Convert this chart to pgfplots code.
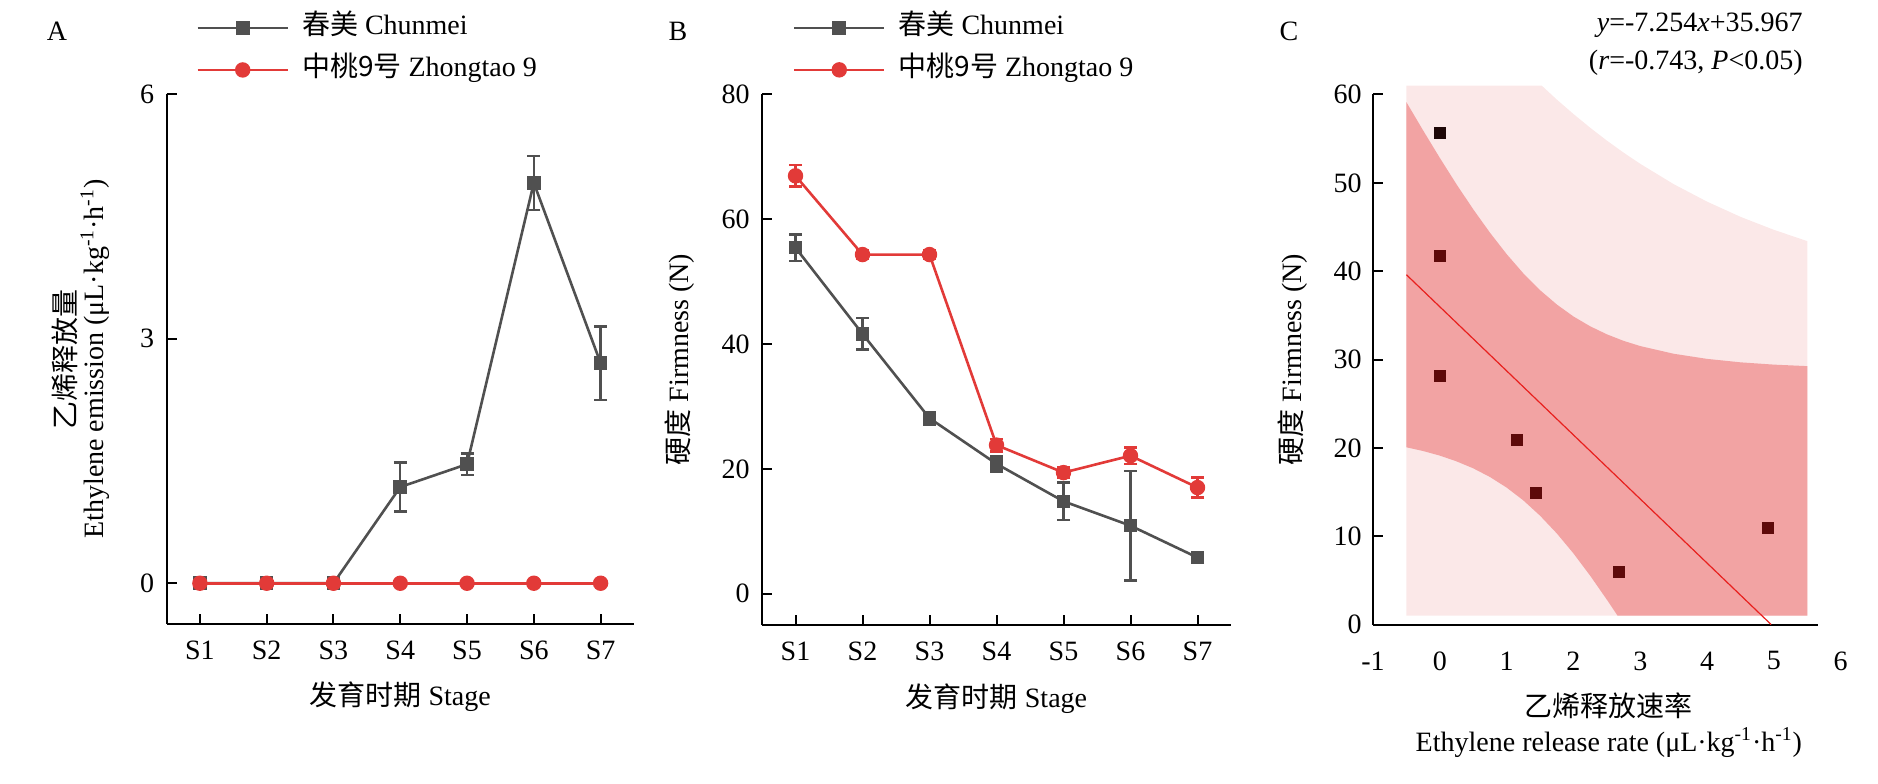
\documentclass[border=0pt]{standalone}
\usepackage{fontspec}
\setmainfont{Liberation Serif}
\newfontfamily\cjk{Noto Sans CJK SC}
\usepackage{pgfplots}
\pgfplotsset{compat=1.18}

\definecolor{cgray}{HTML}{505050}
\definecolor{cred}{HTML}{E23A38}
\definecolor{bandlight}{HTML}{FBE8E8}
\definecolor{banddark}{HTML}{F2A3A3}
\definecolor{ptdark}{HTML}{5E0A0A}
\definecolor{ptblack}{HTML}{1E0606}
\definecolor{fitred}{HTML}{E8201E}

\pgfplotsset{
  mybase/.style={
    scale only axis,
    axis lines=left,
    axis line style={-, line width=1pt},
    tick align=inside,
    major tick length=5pt,
    every tick/.style={black, line width=1pt},
    /pgf/number format/assume math mode=true,
    clip=false,
    label style={font=\fontsize{14}{16}\selectfont},
    tick label style={font=\fontsize{14}{16}\selectfont},
  },
  mylegend/.style={
    legend style={draw=none, fill=none, at={(axis description cs:#1,1.0850)}, anchor=west,
      inner sep=0pt, outer sep=0pt, row sep=8pt, column sep=6.5pt,
      nodes={inner sep=0pt, text height=10pt, text depth=3pt, anchor=west},
      font=\fontsize{14}{16}\selectfont},
    legend cell align=left,
    legend image code/.code={\draw[mark repeat=2,mark phase=2] plot coordinates {(0pt,0pt) (22.5pt,0pt) (45pt,0pt)};},
  },
  grayser/.style={cgray, line width=1.3pt, mark=square*, mark size=2.75pt, mark options={solid, fill=cgray}},
  redser/.style={cred, line width=1.3pt, mark=*, mark size=3.2pt, mark options={solid, fill=cred}},
  ebar/.style={error bars/.cd, y dir=both, y explicit,
    error bar style={line width=1.2pt},
    error mark options={rotate=90, mark size=3.25pt, line width=1.2pt}},
}

\begin{document}
\fontsize{14}{16}\selectfont
\begin{tikzpicture}
\path[use as bounding box] (0,0) rectangle (939pt,391.5pt);

% ---------------- Panel A ----------------
\begin{axis}[mybase, mylegend=0.064,
  at={(83.25pt,79.5pt)}, anchor=south west, width=233.75pt, height=265pt,
  xmin=0.5, xmax=7.5, ymin=-0.5, ymax=6,
  xtick={1,2,3,4,5,6,7}, xticklabels={S1,S2,S3,S4,S5,S6,S7},
  ytick={0,3,6},
  xticklabel style={yshift=-3.7pt},
  yticklabel style={xshift=-1.3pt},
  xlabel={{\cjk 发育时期} Stage},
  xlabel style={at={(axis description cs:0.5,-0.138)}, anchor=center},
  ylabel={{\cjk 乙烯释放量}\\[-2pt]Ethylene emission (μL·kg\textsuperscript{-1}·h\textsuperscript{-1})},
  ylabel style={at={(axis description cs:-0.183,0.5)}, anchor=center, align=center},
]
\addplot[grayser, ebar] coordinates {
  (1,0) +- (0,0)
  (2,0) +- (0,0)
  (3,0) +- (0,0)
  (4,1.18) +- (0,0.30)
  (5,1.46) +- (0,0.13)
  (6,4.91) +- (0,0.33)
  (7,2.70) +- (0,0.45)
};
\addlegendentry{{\cjk 春美} Chunmei}
\addplot[redser] coordinates {
  (1,0) (2,0) (3,0) (4,0) (5,0) (6,0) (7,0)
};
\addlegendentry{{\cjk 中桃9号} Zhongtao 9}
\end{axis}

% ---------------- Panel B ----------------
\begin{axis}[mybase, mylegend=0.066,
  at={(381pt,79pt)}, anchor=south west, width=234.5pt, height=265.5pt,
  xmin=0.5, xmax=7.5, ymin=-5, ymax=80,
  xtick={1,2,3,4,5,6,7}, xticklabels={S1,S2,S3,S4,S5,S6,S7},
  ytick={0,20,40,60,80},
  xticklabel style={yshift=-3.7pt},
  yticklabel style={xshift=-1.3pt},
  xlabel={{\cjk 发育时期} Stage},
  xlabel style={at={(axis description cs:0.5,-0.138)}, anchor=center},
  ylabel={{\cjk 硬度} Firmness (N)},
  ylabel style={at={(axis description cs:-0.175,0.5)}, anchor=center},
]
\addplot[grayser, ebar] coordinates {
  (1,55.4) +- (0,2.1)
  (2,41.6) +- (0,2.5)
  (3,28.1) +- (0,1.0)
  (4,20.8) +- (0,1.3)
  (5,14.8) +- (0,3.0)
  (6,10.9) +- (0,8.8)
  (7,5.8) +- (0,0.8)
};
\addlegendentry{{\cjk 春美} Chunmei}
\addplot[redser, ebar] coordinates {
  (1,66.9) +- (0,1.7)
  (2,54.3) +- (0,0.7)
  (3,54.3) +- (0,0.7)
  (4,23.8) +- (0,1.0)
  (5,19.4) +- (0,0.8)
  (6,22.1) +- (0,1.3)
  (7,17.0) +- (0,1.6)
};
\addlegendentry{{\cjk 中桃9号} Zhongtao 9}
\end{axis}

% ---------------- Panel C ----------------
\begin{axis}[mybase,
  at={(686.5pt,79.25pt)}, anchor=south west, width=222.5pt, height=265pt,
  xmin=-1, xmax=5.66, ymin=0, ymax=60,
  xtick={-1,0,1,2,3,4,5}, ytick={0,10,20,30,40,50,60},
  xtick style={draw=none},
  xticklabel style={yshift=-8.7pt},
  yticklabel style={xshift=-0.8pt},
  xlabel={{\cjk 乙烯释放速率}\\Ethylene release rate (μL·kg\textsuperscript{-1}·h\textsuperscript{-1})},
  xlabel style={at={(axis description cs:0.53,-0.189)}, anchor=center, align=center, font=\fontsize{14}{17.5}\selectfont},
  ylabel={{\cjk 硬度} Firmness (N)},
  ylabel style={at={(axis description cs:-0.18,0.5)}, anchor=center},
]
% prediction band (clipped to 1..61)
\addplot[fill=bandlight, draw=none] coordinates {
  (-0.5,1) (5.5,1) (5.5,43.4) (5.0,44.68) (4.5,46.15) (4.0,47.87) (3.5,49.85)
  (3.0,52.15) (2.75,53.42) (2.5,54.78) (2.25,56.24) (2.0,57.79) (1.75,59.43)
  (1.526,61) (-0.5,61)
};
% confidence band
\addplot[fill=banddark, draw=none] coordinates {
  (-0.5,59.13) (-0.25,55.93) (0,52.82) (0.25,49.83) (0.5,47.00) (0.75,44.36)
  (1,41.93) (1.25,39.75) (1.5,37.85) (1.75,36.23) (2,34.87) (2.25,33.76)
  (2.5,32.85) (2.75,32.11) (3,31.52) (3.5,30.65) (4,30.07) (4.5,29.68)
  (5,29.42) (5.5,29.25) (5.5,1) (2.66,1) (2.5,2.81) (2.25,5.53) (2,8.05)
  (1.75,10.32) (1.5,12.32) (1.25,14.05) (1,15.50) (0.75,16.70) (0.5,17.68)
  (0.25,18.47) (0,19.12) (-0.25,19.64) (-0.5,20.06)
};
% fitted line
\addplot[fitred, line width=0.6pt] coordinates {(-0.5,39.594) (4.958,0)};
% points
\addplot[only marks, mark=square*, mark size=2.75pt, mark options={draw=ptblack, fill=ptblack}] coordinates {(0,55.6)};
\addplot[only marks, mark=square*, mark size=2.75pt, mark options={draw=ptdark, fill=ptdark}] coordinates {
  (0,41.7) (0,28.1) (1.15,20.9) (1.44,14.9) (2.68,5.9) (4.91,10.9)
};
\node[anchor=north, inner sep=0.333em, yshift=-8.7pt] at (axis cs:6,0) {6};
\end{axis}

% panel letters and equation
\node at (28.5pt,376pt) {A};
\node at (339pt,376pt) {B};
\node at (644.5pt,376pt) {C};
\node[anchor=east, inner sep=0pt] at (901.5pt,379pt) {\textit{y}=-7.254\textit{x}+35.967};
\node[anchor=east, inner sep=0pt] at (901.5pt,360pt) {(\textit{r}=-0.743, \textit{P}<0.05)};
\end{tikzpicture}
\end{document}
